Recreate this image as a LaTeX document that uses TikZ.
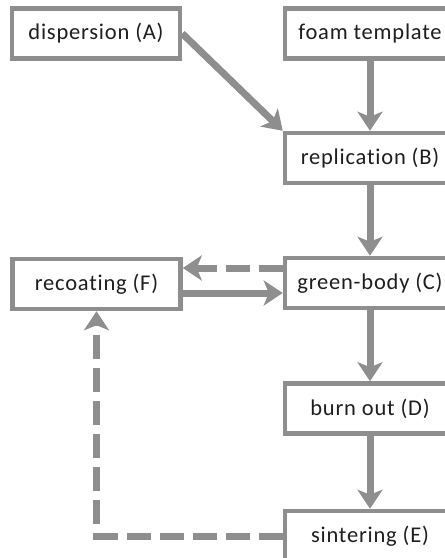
\documentclass[tikz,border=0pt]{standalone}
\usepackage{fontspec}
\setmainfont{Carlito}[Ligatures=NoCommon,LetterSpace=3.5]
\usetikzlibrary{arrows.meta,calc}
\definecolor{lg}{HTML}{8E8E8E}
\definecolor{tx}{HTML}{1E1E1E}
\begin{document}
\begin{tikzpicture}[x=1bp,y=-1bp,
  box/.style={draw=lg,line width=4.5bp,fill=white,minimum width=168bp,minimum height=50bp,
    inner sep=0pt,text=tx,font=\fontsize{22.5bp}{25bp}\selectfont},
  flow/.style={draw=lg,line width=7bp,-{Stealth[length=19bp,width=25bp,inset=5bp]}},
  dflow/.style={flow,dash pattern=on 24bp off 9bp}]
\useasboundingbox (0,0) rectangle (445,558);
\begin{scope}
\clip (0,0) rectangle (445,558);
\node[box] (A) at (96,33.5) {dispersion (A)};
\node[box,minimum width=170bp] (T) at (370,33.5) {foam template};
\node[box,minimum width=170bp] (B) at (370,158) {replication (B)};
\node[box,minimum width=170bp] (C) at (370,283) {green-body (C)};
\node[box] (F) at (96.5,284) {recoating (F)};
\node[box,minimum width=170bp] (D) at (370,408.5) {burn out (D)};
\node[box,minimum width=170bp] (E) at (370,536) {sintering (E)};
\draw[flow] (A.east) -- (B.north west);
\draw[flow] (T) -- (B);
\draw[flow] (B) -- (C);
\draw[flow] (C) -- (D);
\draw[flow] (D) -- (E);
\draw[dflow] ($(C.west)+(0,-15)$) -- ($(F.east)+(0,-16)$);
\draw[flow] ($(F.east)+(0,9)$) -- ($(C.west)+(0,10)$);
\draw[dflow] (E.west) -| (F.south);
\end{scope}
\end{tikzpicture}
\end{document}
